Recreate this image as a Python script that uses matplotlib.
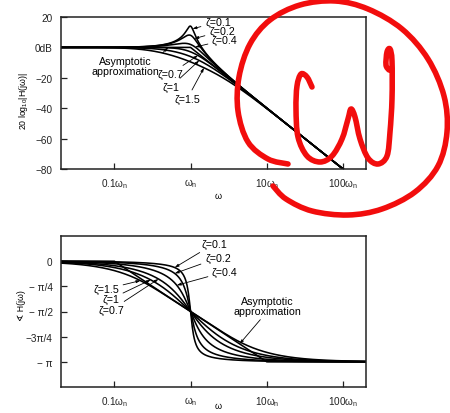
import numpy as np
import matplotlib
matplotlib.use("Agg")
import matplotlib.pyplot as plt
from matplotlib.path import Path
from matplotlib.patches import PathPatch

# Damping ratios of the second-order system H(s) = wn^2 / (s^2 + 2*zeta*wn*s + wn^2)
zetas = [0.1, 0.2, 0.4, 0.7, 1.0, 1.5]
zeta_labels = ["ζ=0.1", "ζ=0.2", "ζ=0.4", "ζ=0.7", "ζ=1", "ζ=1.5"]

# Frequency axis (in units of wn)
freq_limits = (0.02, 200.0)
freq_ticks = [0.1, 1, 10, 100]
freq_tick_labels = [r"0.1$\omega_\mathrm{n}$", r"$\omega_\mathrm{n}$",
                    r"10$\omega_\mathrm{n}$", r"100$\omega_\mathrm{n}$"]

mag_limits = (-80, 20)
mag_ticks = [20, 0, -20, -40, -60, -80]
mag_tick_labels = ["20", "0dB", "−20", "−40", "−60", "−80"]

phase_limits = (-5 * np.pi / 4, np.pi / 4)
phase_ticks = [0, -np.pi / 4, -np.pi / 2, -3 * np.pi / 4, -np.pi]
phase_tick_labels = ["0", "− π/4", "− π/2", "−3π/4", "− π"]

plt.rcParams["font.family"] = ["Liberation Sans", "DejaVu Sans"]
plt.rcParams["mathtext.fontset"] = "custom"
plt.rcParams["mathtext.rm"] = "Liberation Sans"
plt.rcParams["mathtext.it"] = "Liberation Sans"
plt.rcParams["mathtext.bf"] = "Liberation Sans:bold"

W, H = 450, 414
fig = plt.figure(figsize=(W / 100, H / 100), dpi=100)
fig.patch.set_facecolor("white")


def px_axes(x0, y0, x1, y1):
    """Axes from pixel box (top-left origin)."""
    return fig.add_axes([x0 / W, 1 - y1 / H, (x1 - x0) / W, (y1 - y0) / H])


ax_mag = px_axes(61, 18, 366, 170)
ax_ph = px_axes(61, 237, 366, 388)

w = np.logspace(np.log10(freq_limits[0]), np.log10(freq_limits[1]), 800)


def response(z, u):
    return 1.0 / (1 - u ** 2 + 2j * z * u)


def mag_db(z, u):
    return 20 * np.log10(np.abs(response(z, u)))


def phase(z, u):
    return -np.arctan2(2 * z * u, 1 - u ** 2)


def mag_asym(u):
    return np.where(u < 1, 0.0, -40 * np.log10(u))


def phase_asym(u):
    return np.clip(-np.pi / 2 * (1 + np.log10(u)), -np.pi, 0)


lw = 1.15
for z in zetas:
    ax_mag.plot(w, mag_db(z, w), color="black", lw=lw)
    ax_ph.plot(w, phase(z, w), color="black", lw=lw)
ax_mag.plot(w, mag_asym(w), color="black", lw=lw)
ax_ph.plot(w, phase_asym(w), color="black", lw=lw)

for ax in (ax_mag, ax_ph):
    ax.set_xscale("log")
    ax.set_xlim(*freq_limits)
    ax.set_xticks(freq_ticks)
    ax.set_xticklabels(freq_tick_labels)
    ax.xaxis.set_minor_locator(matplotlib.ticker.NullLocator())
    ax.tick_params(direction="in", length=4, width=0.9, labelsize=7.2,
                   colors="#222222")
    ax.tick_params(axis="x", pad=5)
    ax.tick_params(axis="y", pad=6)
    for s in ax.spines.values():
        s.set_linewidth(1.1)
        s.set_color("#222222")
    ax.set_facecolor("white")

ax_mag.set_ylim(*mag_limits)
ax_mag.set_yticks(mag_ticks)
ax_mag.set_yticklabels(mag_tick_labels)
ax_ph.set_ylim(*phase_limits)
ax_ph.set_yticks(phase_ticks)
ax_ph.set_yticklabels(phase_tick_labels)

# axis titles
fig.text(218 / W, 1 - 197 / H, "ω", fontsize=6.5, ha="center", va="center")
fig.text(218 / W, 1 - 407 / H, "ω", fontsize=6.5, ha="center", va="center")
fig.text(23 / W, 1 - 101 / H, r"20 log$_{10}$|H(j$\omega$)|", fontsize=6.3,
         rotation=90, ha="center", va="center")
fig.text(22 / W, 1 - 306 / H, "∢ H(jω)", fontsize=6.3,
         rotation=90, ha="center", va="center")

arrow = dict(arrowstyle="-|>,head_length=0.3,head_width=0.1", color="black",
             lw=0.6, shrinkA=1, shrinkB=0)
fs = 7.7


def label(ax, text, u, y, tx, ty, ha):
    ax.annotate(text, xy=(u, y), xytext=(tx, H - ty), textcoords="figure pixels",
                fontsize=fs, ha=ha, va="center", arrowprops=arrow)


# magnitude plot labels
mag_tips = [1.06, 1.12, 1.15, 1.25, 1.3, 1.5]
mag_text = [(205, 23, "left"), (209, 32, "left"), (212, 41, "left"),
            (183, 75, "right"), (179, 88, "right"), (200, 100, "right")]
for z, lab, u, (tx, ty, ha) in zip(zetas, zeta_labels, mag_tips, mag_text):
    label(ax_mag, lab, u, float(mag_db(z, u)), tx, ty, ha)
ax_mag.annotate("Asymptotic\napproximation", xy=(0.51, 0.0),
                xytext=(125, H - 67), textcoords="figure pixels",
                fontsize=fs, ha="center", va="center", linespacing=0.95,
                arrowprops=dict(arrow, relpos=(0.93, 0.75)))

# phase plot labels
ph_tips = [0.62, 0.62, 0.66, 0.38, 0.3, 0.22]
ph_text = [(201, 245, "left"), (205, 259, "left"), (212, 273, "left"),
           (124, 311, "right"), (119, 300, "right"), (119, 290, "right")]
for z, lab, u, (tx, ty, ha) in zip(zetas, zeta_labels, ph_tips, ph_text):
    label(ax_ph, lab, u, float(phase(z, u)), tx, ty, ha)
ax_ph.annotate("Asymptotic\napproximation", xy=(4.4, float(phase_asym(4.4))),
               xytext=(267, H - 307), textcoords="figure pixels",
               fontsize=fs, ha="center", va="center", linespacing=0.95,
               arrowprops=dict(arrow, relpos=(0.45, 0.0)))


# red hand-drawn marker: circle with a handwritten omega
def smooth_path(pts):
    pts = np.array([(x / W, 1 - y / H) for x, y in pts])
    verts = [pts[0]]
    codes = [Path.MOVETO]
    n = len(pts)
    for i in range(n - 1):
        p0 = pts[i - 1] if i > 0 else pts[i]
        p1, p2 = pts[i], pts[i + 1]
        p3 = pts[i + 2] if i + 2 < n else pts[i + 1]
        verts += [p1 + (p2 - p0) / 6, p2 - (p3 - p1) / 6, p2]
        codes += [Path.CURVE4] * 3
    return Path(verts, codes)


loop = [(288, 165), (268, 160), (248, 143), (238, 112), (239, 78), (250, 45),
        (270, 21), (300, 6), (335, 2), (368, 10), (402, 30), (428, 60),
        (444, 97), (447, 133), (438, 167), (415, 193), (382, 210), (348, 216),
        (312, 212), (286, 200), (273, 187)]
omega = [(312, 88), (307, 78), (301, 75), (297, 87), (296, 110), (298, 138),
         (307, 157), (320, 163), (332, 157), (342, 140), (348, 120),
         (351, 110), (355, 118), (360, 140), (368, 159), (378, 165),
         (387, 157), (390, 133), (392, 100), (392, 62), (390, 50), (387, 53),
         (386, 66), (389, 71)]
for pts in (loop, omega):
    fig.add_artist(PathPatch(smooth_path(pts), fill=False, edgecolor="#f20d0d",
                             lw=4.0, capstyle="round", joinstyle="round",
                             transform=fig.transFigure, zorder=20))

fig.savefig("out.png", dpi=100, facecolor="white")
